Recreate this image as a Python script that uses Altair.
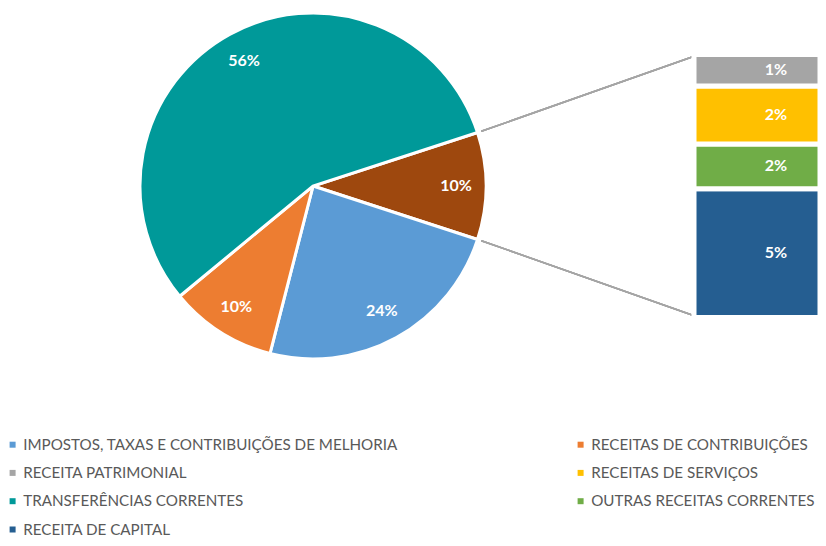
import math
import altair as alt
import pandas as pd

# ---- data ----
legend_order = [
    "IMPOSTOS, TAXAS E CONTRIBUIÇÕES DE MELHORIA",
    "RECEITAS DE CONTRIBUIÇÕES",
    "RECEITA PATRIMONIAL",
    "RECEITAS DE SERVIÇOS",
    "TRANSFERÊNCIAS CORRENTES",
    "OUTRAS RECEITAS CORRENTES",
    "RECEITA DE CAPITAL",
]
# legend grid is filled column by column: left column, then right column
legend_values = [legend_order[i] for i in (0, 2, 4, 6, 1, 3, 5)]
other_name = "OUTROS"

pie_categories = [other_name,
                  "IMPOSTOS, TAXAS E CONTRIBUIÇÕES DE MELHORIA",
                  "RECEITAS DE CONTRIBUIÇÕES",
                  "TRANSFERÊNCIAS CORRENTES"]
pie_values = [10, 24, 10, 56]
pie_labels = ["10%", "24%", "10%", "56%"]

bar_categories = ["RECEITA DE CAPITAL", "OUTRAS RECEITAS CORRENTES",
                  "RECEITAS DE SERVIÇOS", "RECEITA PATRIMONIAL"]
bar_values = [4.9, 1.7, 2.2, 1.2]
bar_labels = ["5%", "2%", "2%", "1%"]

color_domain = legend_order + [other_name]
color_range = ["#5B9BD5", "#ED7D31", "#A5A5A5", "#FFC000",
               "#009999", "#70AD47", "#255E91", "#9E480E"]

pie_df = pd.DataFrame({"cat": pie_categories, "val": pie_values,
                       "lab": pie_labels, "ord": list(range(len(pie_values)))})
bar_df = pd.DataFrame({"cat": bar_categories, "val": bar_values,
                       "lab": bar_labels, "ord": list(range(len(bar_values)))})

# ---- layout ----
cx, cy, R = 305, 178, 173
start = 2 * math.pi * 0.2          # brown slice centred at 3 o'clock
theta_scale = alt.Scale(range=[start, start + 2 * math.pi])
bar_left, bar_right = 686, 812
bar_top, bar_bottom = 46.5, 309.5

color_scale = alt.Scale(domain=color_domain, range=color_range)
legend = alt.Legend(
    values=legend_values, title=None, orient="none", legendX=-3, legendY=429,
    columns=2, columnPadding=175, rowPadding=12.3, symbolType="square",
    symbolSize=36, symbolStrokeWidth=0, labelFont="Lato", labelFontSize=15.2,
    labelColor="#595959", labelLimit=600, symbolOffset=0, labelOffset=3,
    padding=0,
)

pie = alt.Chart(pie_df).mark_arc(
    radius=R, stroke="white", strokeWidth=3
).encode(
    theta=alt.Theta("val:Q", stack=True, scale=theta_scale),
    order=alt.Order("ord:Q"),
    color=alt.Color("cat:N", scale=color_scale, legend=legend),
    x=alt.value(cx), y=alt.value(cy),
)

pie_text = alt.Chart(pie_df).mark_text(
    radius=143, font="Lato", fontWeight="bold", fontSize=16, color="white"
).encode(
    theta=alt.Theta("val:Q", stack=True, scale=theta_scale),
    order=alt.Order("ord:Q"),
    text="lab:N",
    x=alt.value(cx), y=alt.value(cy),
)

ysc = alt.Scale(domain=[0, sum(bar_values)], range=[bar_bottom, bar_top])

bar_base = alt.Chart(bar_df).transform_stack(
    stack="val", groupby=[], as_=["y0", "y1"],
    sort=[alt.SortField("ord", order="ascending")]
).transform_calculate(mid="(datum.y0 + datum.y1) / 2")

bars = bar_base.mark_rect(stroke="white", strokeWidth=5).encode(
    x=alt.value(bar_left), x2=alt.value(bar_right),
    y=alt.Y("y0:Q", scale=ysc, axis=None), y2="y1:Q",
    color=alt.Color("cat:N", scale=color_scale, legend=legend),
)

bar_text = bar_base.mark_text(
    font="Lato", fontWeight="bold", fontSize=16, color="white"
).encode(
    x=alt.value(768),
    y=alt.Y("mid:Q", scale=ysc, axis=None),
    text="lab:N",
)

a1 = start
a2 = start + 2 * math.pi * pie_values[0] / sum(pie_values)
p1 = (cx + (R + 4) * math.sin(a1), cy - (R + 4) * math.cos(a1))
p2 = (cx + (R + 4) * math.sin(a2), cy - (R + 4) * math.cos(a2))

line1 = alt.Chart(pie_df).mark_rule(color="#A5A5A5", strokeWidth=1.5).encode(
    x=alt.value(p1[0]), y=alt.value(p1[1]),
    x2=alt.value(bar_left - 2), y2=alt.value(bar_top + 2.5),
)
line2 = alt.Chart(pie_df).mark_rule(color="#A5A5A5", strokeWidth=1.5).encode(
    x=alt.value(p2[0]), y=alt.value(p2[1]),
    x2=alt.value(bar_left - 2), y2=alt.value(bar_bottom - 2.5),
)

chart = alt.layer(line1, line2, pie, pie_text, bars, bar_text).properties(
    width=810, height=530, padding=0,
    autosize=alt.AutoSizeParams(type="none"),
).configure_view(stroke=None)

chart.save("out.html", embed_options={"renderer": "svg", "actions": False})
